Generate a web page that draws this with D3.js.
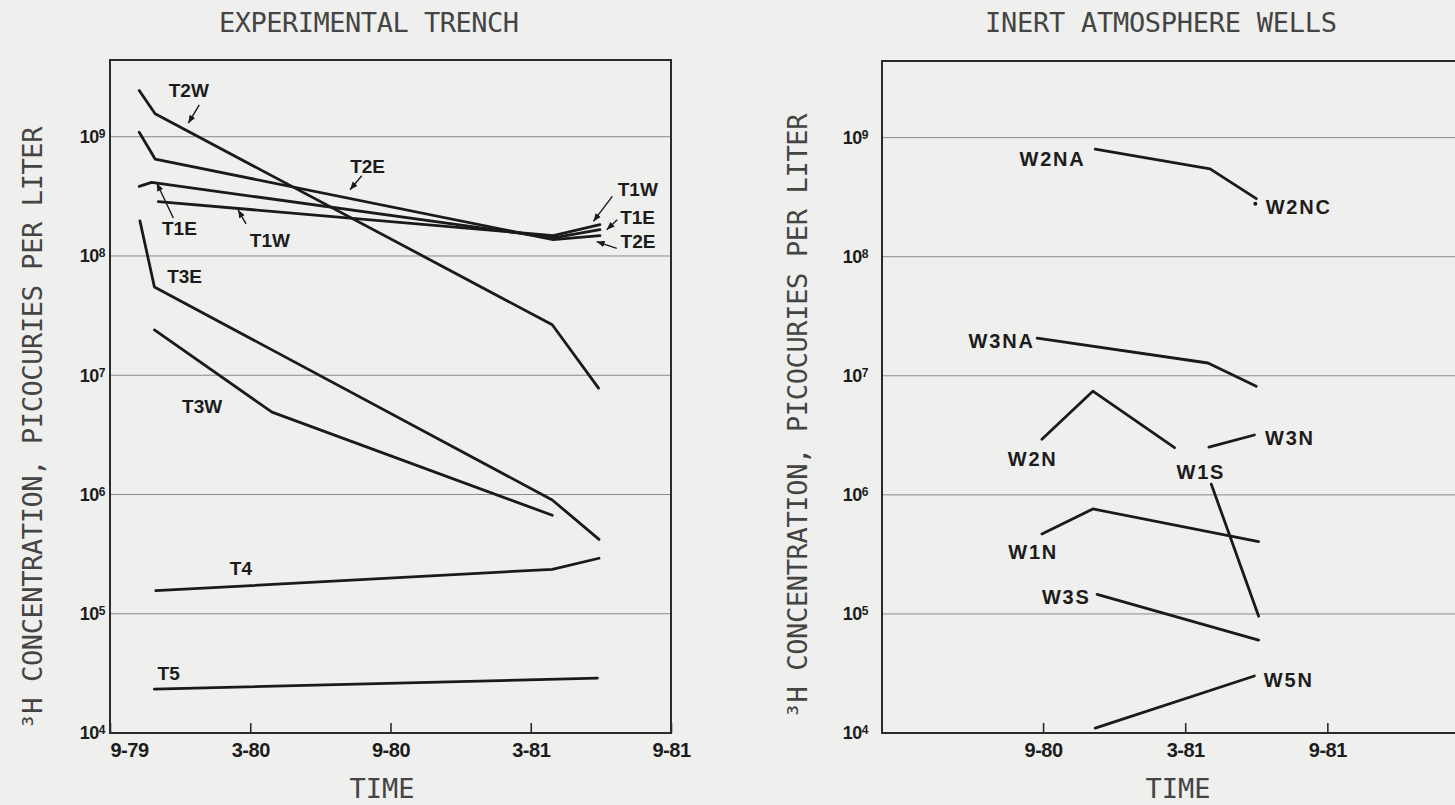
<!DOCTYPE html>
<html>
<head>
<meta charset="utf-8">
<script src="https://cdnjs.cloudflare.com/ajax/libs/d3/7.8.5/d3.min.js"></script>
<style>
    body { margin: 0; background: #efefed; }
    svg { display: block; }
    .mono { font-family: "DejaVu Sans Mono", monospace; font-size: 27px; fill: #444; }
    .lbl { font-family: "Liberation Sans", Arial, sans-serif; font-weight: bold; font-size: 19px; fill: #1c1c1c; }
    .wells .lbl { font-size: 20px; letter-spacing: 1.8px; }
    .axis text { font-family: "Liberation Sans", Arial, sans-serif; font-weight: bold; fill: #1c1c1c; }
    .xaxis text { font-size: 20px; letter-spacing: -0.5px; }
    .yaxis text { font-size: 18px; letter-spacing: -0.5px; }
    .axis line { stroke: #2a2a2a; stroke-width: 1.6; }
    .axis path { display: none; }
    .grid { stroke: #8a8a8a; stroke-width: 1; }
    .frame { fill: none; stroke: #2a2a2a; stroke-width: 2; }
    .series { fill: none; stroke: #1a1a1a; stroke-width: 2.8; stroke-linejoin: round; stroke-linecap: round; }
    .leader { stroke: #1a1a1a; stroke-width: 1.4; }
</style>
</head>
<body>
<svg id="chart" width="1455" height="805"></svg>
<script>
// y: 3H concentration, picocuries per liter (log). x: months since 9-79
const decades = [1e4, 1e5, 1e6, 1e7, 1e8, 1e9];
const trenchTicks = [0, 6, 12, 18, 24];
const trenchTickLabels = ["9-79", "3-80", "9-80", "3-81", "9-81"];
const wellTicks = [12, 18, 24];
const wellTickLabels = ["9-80", "3-81", "9-81"];

// experimental trench
const T2W = [[1.25, 2.44e9], [1.93, 1.56e9], [18.92, 2.65e7], [20.9, 7.8e6]];
const T2E = [[1.25, 1.09e9], [1.93, 6.5e8], [18.96, 1.37e8], [20.96, 1.48e8]];
const T1E = [[1.25, 3.83e8], [1.78, 4.14e8], [18.96, 1.42e8], [20.96, 1.66e8]];
const T1W = [[2.07, 2.86e8], [18.96, 1.48e8], [20.96, 1.83e8]];
const T3E = [[1.28, 1.97e8], [1.9, 5.5e7], [18.92, 9.0e5], [20.92, 4.2e5]];
const T3W = [[1.9, 2.4e7], [6.93, 4.9e6], [18.92, 6.7e5]];
const T4 = [[1.96, 1.56e5], [18.92, 2.36e5], [20.92, 2.92e5]];
const T5 = [[1.9, 2.33e4], [20.85, 2.88e4]];

// inert atmosphere wells
const W2NA = [[14.2, 8.0e8], [19.05, 5.46e8], [21.0, 3.07e8]];
const W2NC = [[20.96, 2.79e8]];
const W3NA = [[11.75, 2.07e7], [18.96, 1.28e7], [21.0, 8.17e6]];
const W2N = [[11.95, 2.93e6], [14.1, 7.42e6], [17.55, 2.49e6]];
const W3N = [[19.0, 2.52e6], [20.92, 3.18e6]];
const W1S = [[19.1, 1.23e6], [21.1, 9.57e4]];
const W1N = [[11.95, 4.70e5], [14.1, 7.61e5], [21.1, 4.05e5]];
const W3S = [[14.28, 1.46e5], [21.1, 6.03e4]];
const W5N = [[14.2, 1.1e4], [20.92, 3.01e4]];

const trenchSeries = [T2W, T2E, T1E, T1W, T3E, T3W, T4, T5];
const wellSeries = [W2NA, W3NA, W2N, W3N, W1S, W1N, W3S, W5N];
const wellDots = [W2NC];

// label name, month, value (text centre / baseline)
const trenchLabels = [
    ["T2W", 3.37, 2.15e9], ["T2E", 11.02, 5.0e8], ["T1E", 2.97, 1.51e8],
    ["T1W", 6.84, 1.20e8], ["T3E", 3.19, 5.93e7], ["T3W", 3.94, 4.86e6],
    ["T4", 5.6, 2.12e5], ["T5", 2.51, 2.79e4],
    ["T1W", 22.58, 3.16e8], ["T1E", 22.57, 1.86e8], ["T2E", 22.59, 1.17e8],
];
const trenchLeaders = [
    [[3.82, 1.85e9], [3.35, 1.30e9]],
    [[10.77, 4.71e8], [10.27, 3.59e8]],
    [[2.71, 2.08e8], [2.0, 4.09e8]],
    [[5.82, 1.86e8], [5.48, 2.44e8]],
    [[21.49, 3.16e8], [20.68, 1.95e8]],
    [[21.70, 2.01e8], [21.25, 1.66e8]],
    [[21.68, 1.16e8], [20.82, 1.32e8]],
];
const wellLabels = [
    ["W2NA", 12.4, 5.83e8], ["W2NC", 22.79, 2.30e8], ["W3NA", 10.25, 1.71e7],
    ["W2N", 11.56, 1.75e6], ["W1S", 18.66, 1.36e6], ["W3N", 22.42, 2.61e6],
    ["W1N", 11.58, 2.90e5], ["W3S", 12.98, 1.21e5], ["W5N", 22.37, 2.45e4],
];

const svg = d3.select("#chart");

svg.append("defs").append("marker")
    .attr("id", "arrow")
    .attr("viewBox", "0 0 10 10")
    .attr("refX", 10)
    .attr("refY", 5)
    .attr("markerWidth", 8)
    .attr("markerHeight", 8)
    .attr("markerUnits", "userSpaceOnUse")
    .attr("orient", "auto")
    .append("path")
    .attr("d", "M0,1 L10,5 L0,9 z")
    .attr("fill", "#1a1a1a");

function drawPanel(opts) {
    const { cls, xScale, yScale, ticks, tickLabels, labelPad, title, titleX, titleLen,
        yTitleX, yTitleY, yTitleLen, timeX, series, dots, labels, leaders, openRight } = opts;
    const g = svg.append("g").attr("class", cls);
    const [x0, x1] = xScale.range();
    const [yb, yt] = yScale.range();

    // horizontal decade grid
    g.selectAll(".grid")
        .data(decades.slice(1))
        .enter()
        .append("line")
        .attr("class", "grid")
        .attr("x1", x0)
        .attr("x2", x1)
        .attr("y1", (d) => yScale(d))
        .attr("y2", (d) => yScale(d));

    const xAxisCall = d3.axisBottom(xScale)
        .tickValues(ticks)
        .tickFormat((d, i) => tickLabels[i])
        .tickSizeInner(-10)
        .tickSizeOuter(0)
        .tickPadding(10);
    const xg = g.append("g")
        .attr("class", "axis xaxis")
        .attr("transform", "translate(0," + yb + ")")
        .call(xAxisCall);
    // first label sits to the right of the corner
    xg.selectAll(".tick")
        .filter((d) => d === xScale.domain()[0])
        .select("text")
        .attr("text-anchor", "start");

    const yAxisCall = d3.axisLeft(yScale)
        .tickValues(decades)
        .tickFormat(() => "10")
        .tickSize(0)
        .tickPadding(labelPad);
    const yg = g.append("g")
        .attr("class", "axis yaxis")
        .attr("transform", "translate(" + x0 + ",0)")
        .call(yAxisCall);
    yg.selectAll(".tick text")
        .append("tspan")
        .attr("dy", -5)
        .attr("font-size", "12px")
        .text((d) => Math.round(Math.log10(d)));

    const framePath = openRight
        ? `M${x1},${yt} H${x0} V${yb} H${x1}`
        : `M${x0},${yt} H${x1} V${yb} H${x0} Z`;
    g.append("path").attr("class", "frame").attr("d", framePath);

    const path = d3.line().x((d) => xScale(d[0])).y((d) => yScale(d[1]));
    g.selectAll(".series")
        .data(series)
        .enter()
        .append("path")
        .attr("class", "series")
        .attr("d", (d) => path(d));

    g.selectAll(".dot")
        .data(dots)
        .enter()
        .append("circle")
        .attr("cx", (d) => xScale(d[0][0]))
        .attr("cy", (d) => yScale(d[0][1]))
        .attr("r", 2)
        .attr("fill", "#1a1a1a");

    g.selectAll(".leader")
        .data(leaders)
        .enter()
        .append("line")
        .attr("class", "leader")
        .attr("x1", (d) => xScale(d[0][0]))
        .attr("y1", (d) => yScale(d[0][1]))
        .attr("x2", (d) => xScale(d[1][0]))
        .attr("y2", (d) => yScale(d[1][1]))
        .attr("marker-end", "url(#arrow)");

    g.selectAll(".lbl")
        .data(labels)
        .enter()
        .append("text")
        .attr("class", "lbl")
        .attr("text-anchor", "middle")
        .attr("x", (d) => xScale(d[1]))
        .attr("y", (d) => yScale(d[2]))
        .text((d) => d[0]);

    g.append("text")
        .attr("class", "mono")
        .attr("x", titleX)
        .attr("y", 32)
        .attr("textLength", titleLen)
        .attr("lengthAdjust", "spacing")
        .text(title);

    g.append("text")
        .attr("class", "mono")
        .attr("text-anchor", "middle")
        .attr("x", timeX)
        .attr("y", 798)
        .text("TIME");

    g.append("text")
        .attr("class", "mono")
        .attr("text-anchor", "middle")
        .attr("transform", "translate(" + yTitleX + "," + yTitleY + ") rotate(-90)")
        .attr("textLength", yTitleLen)
        .attr("lengthAdjust", "spacing")
        .text("\u00b3H CONCENTRATION, PICOCURIES PER LITER");
}

drawPanel({
    cls: "trench",
    xScale: d3.scaleLinear().domain([0, 24]).range([110, 671]),
    yScale: d3.scaleLog().domain([1e4, 4.4e9]).range([733, 60]),
    ticks: trenchTicks,
    tickLabels: trenchTickLabels,
    labelPad: 5,
    title: "EXPERIMENTAL TRENCH",
    titleX: 219,
    titleLen: 300,
    yTitleX: 42,
    yTitleY: 428,
    yTitleLen: 603,
    timeX: 382,
    series: trenchSeries,
    dots: [],
    labels: trenchLabels,
    leaders: trenchLeaders,
    openRight: false,
});

drawPanel({
    cls: "wells",
    xScale: d3.scaleLinear().domain([5.2, 29.6]).range([882, 1460]),
    yScale: d3.scaleLog().domain([1e4, 4.4e9]).range([733, 61]),
    ticks: wellTicks,
    tickLabels: wellTickLabels,
    labelPad: 14,
    title: "INERT ATMOSPHERE WELLS",
    titleX: 985,
    titleLen: 352,
    yTitleX: 807,
    yTitleY: 416,
    yTitleLen: 605,
    timeX: 1178,
    series: wellSeries,
    dots: wellDots,
    labels: wellLabels,
    leaders: [],
    openRight: true,
});
</script>
</body>
</html>
